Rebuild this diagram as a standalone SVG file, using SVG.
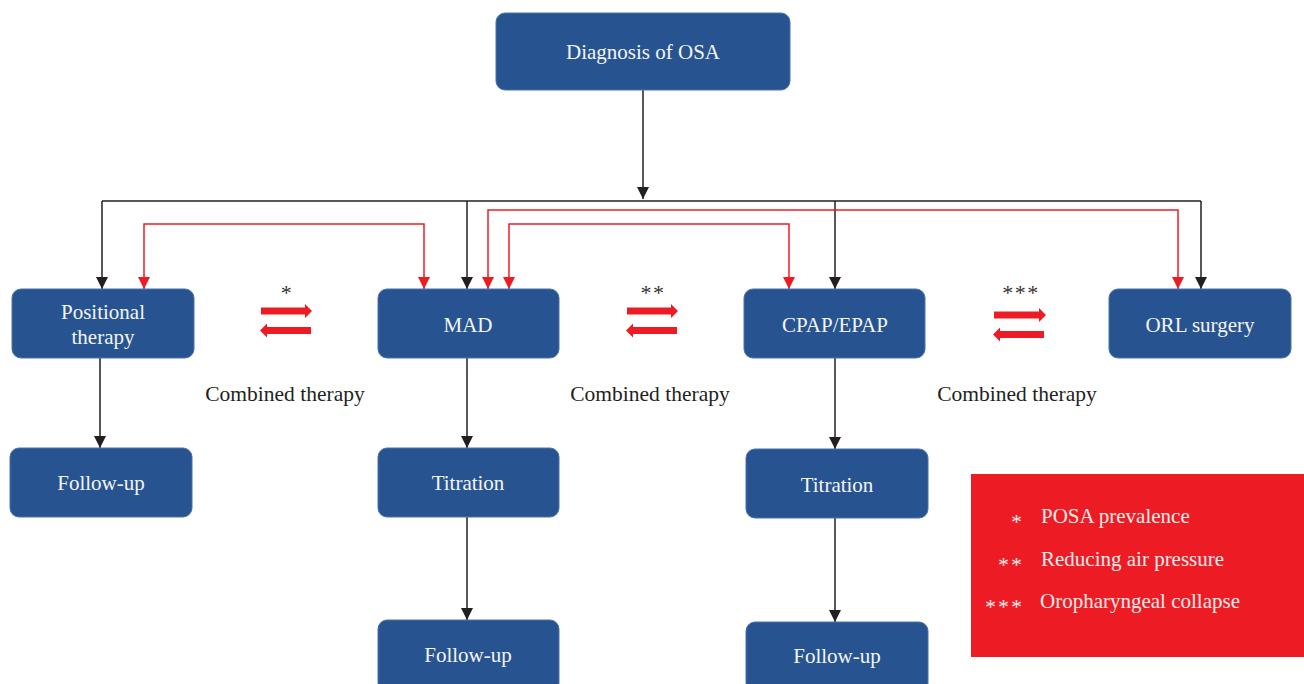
<svg xmlns="http://www.w3.org/2000/svg" width="1304" height="684" viewBox="0 0 1304 684">
<style>
.box{fill:#275490;stroke:#4a72ad;stroke-width:1}
.nt{font-family:"Liberation Serif","Times New Roman",serif;font-size:21px;fill:#f4f4f4;text-anchor:middle}
.lbl{font-family:"Liberation Serif","Times New Roman",serif;font-size:21.5px;fill:#231f20;text-anchor:middle}
.ast{font-family:"Liberation Serif","Times New Roman",serif;font-size:22px;fill:#333333;text-anchor:middle;letter-spacing:1.5px}
.lt{font-family:"Liberation Serif","Times New Roman",serif;font-size:21px;fill:#fbeaea}
.la{font-family:"Liberation Serif","Times New Roman",serif;font-size:22px;fill:#fbeaea;text-anchor:end;letter-spacing:2px}
.blk{fill:none;stroke:#231f20;stroke-width:1.5}
.red{fill:none;stroke:#ed1c24;stroke-width:1.5}
.dbl{fill:#ed1c24}
</style>
<defs>
<marker id="ab" viewBox="0 0 12 12" refX="12" refY="6" markerWidth="12" markerHeight="12" markerUnits="userSpaceOnUse" orient="auto-start-reverse">
<path d="M0,0 L12,6 L0,12 z" fill="#231f20"/>
</marker>
<marker id="ar" viewBox="0 0 12 12" refX="12" refY="6" markerWidth="12" markerHeight="12" markerUnits="userSpaceOnUse" orient="auto-start-reverse">
<path d="M0,0 L12,6 L0,12 z" fill="#ed1c24"/>
</marker>
</defs>

<g id="connectors">
<path class="blk" d="M643,90 V199" marker-end="url(#ab)"/>
<path class="blk" d="M102,201 H1201"/>
<path class="blk" d="M102,201 V289" marker-end="url(#ab)"/>
<path class="blk" d="M467,201 V289" marker-end="url(#ab)"/>
<path class="blk" d="M835,201 V289" marker-end="url(#ab)"/>
<path class="blk" d="M1201,201 V289" marker-end="url(#ab)"/>
<path class="red" d="M144,289 V224 H424 V289" marker-start="url(#ar)" marker-end="url(#ar)"/>
<path class="red" d="M488,289 V210 H1178 V289" marker-start="url(#ar)" marker-end="url(#ar)"/>
<path class="red" d="M509,289 V224 H789 V289" marker-start="url(#ar)" marker-end="url(#ar)"/>
<path class="blk" d="M100,358 V448" marker-end="url(#ab)"/>
<path class="blk" d="M467,358 V448" marker-end="url(#ab)"/>
<path class="blk" d="M467,517 V620" marker-end="url(#ab)"/>
<path class="blk" d="M835,358 V449" marker-end="url(#ab)"/>
<path class="blk" d="M835,518 V622" marker-end="url(#ab)"/>
</g>

<g id="combined1">
<text class="ast" x="287" y="300">*</text>
<path class="dbl" d="M261,307.5 H305 V304 L312,311 L305,318 V314.5 H261 z"/>
<path class="dbl" d="M311,327 H267 V323.5 L260,330.5 L267,337.5 V334 H311 z"/>
<text class="lbl" x="285" y="401">Combined therapy</text>
</g>
<g id="combined2">
<text class="ast" x="653" y="300">**</text>
<path class="dbl" d="M627,307.5 H671 V304 L678,311 L671,318 V314.5 H627 z"/>
<path class="dbl" d="M677,327 H633 V323.5 L626,330.5 L633,337.5 V334 H677 z"/>
<text class="lbl" x="650" y="401">Combined therapy</text>
</g>
<g id="combined3">
<text class="ast" x="1021" y="300">***</text>
<path class="dbl" d="M994,311.5 H1039 V308 L1046,315 L1039,322 V318.5 H994 z"/>
<path class="dbl" d="M1044,331 H1000 V327.5 L993,334.5 L1000,341.5 V338 H1044 z"/>
<text class="lbl" x="1017" y="401">Combined therapy</text>
</g>

<g id="diagnosis"><rect class="box" x="496" y="13" width="294" height="77" rx="9"/><text class="nt" x="643" y="59">Diagnosis of OSA</text></g>
<g id="positional"><rect class="box" x="12" y="289" width="182" height="69" rx="9"/><text class="nt" x="103" y="319">Positional</text><text class="nt" x="103" y="344">therapy</text></g>
<g id="mad"><rect class="box" x="378" y="289" width="181" height="69" rx="9"/><text class="nt" x="468" y="332">MAD</text></g>
<g id="cpap"><rect class="box" x="744" y="289" width="181" height="69" rx="9"/><text class="nt" x="835" y="332">CPAP/EPAP</text></g>
<g id="orl"><rect class="box" x="1109" y="289" width="182" height="69" rx="9"/><text class="nt" x="1200" y="332">ORL surgery</text></g>
<g id="followup1"><rect class="box" x="10" y="448" width="182" height="69" rx="9"/><text class="nt" x="101" y="490">Follow-up</text></g>
<g id="titration1"><rect class="box" x="378" y="448" width="181" height="69" rx="9"/><text class="nt" x="468" y="490">Titration</text></g>
<g id="followup2"><rect class="box" x="378" y="620" width="181" height="72" rx="9"/><text class="nt" x="468" y="662">Follow-up</text></g>
<g id="titration2"><rect class="box" x="746" y="449" width="182" height="69" rx="9"/><text class="nt" x="837" y="492">Titration</text></g>
<g id="followup3"><rect class="box" x="746" y="622" width="182" height="70" rx="9"/><text class="nt" x="837" y="663">Follow-up</text></g>

<g id="legend">
<rect x="971" y="474" width="333" height="183" fill="#ed1c24"/>
<text class="la" x="1024" y="529">*</text>
<text class="lt" x="1041" y="523">POSA prevalence</text>
<text class="la" x="1024" y="572">**</text>
<text class="lt" x="1041" y="566">Reducing air pressure</text>
<text class="la" x="1024" y="614">***</text>
<text class="lt" x="1040" y="608">Oropharyngeal collapse</text>
</g>
</svg>
